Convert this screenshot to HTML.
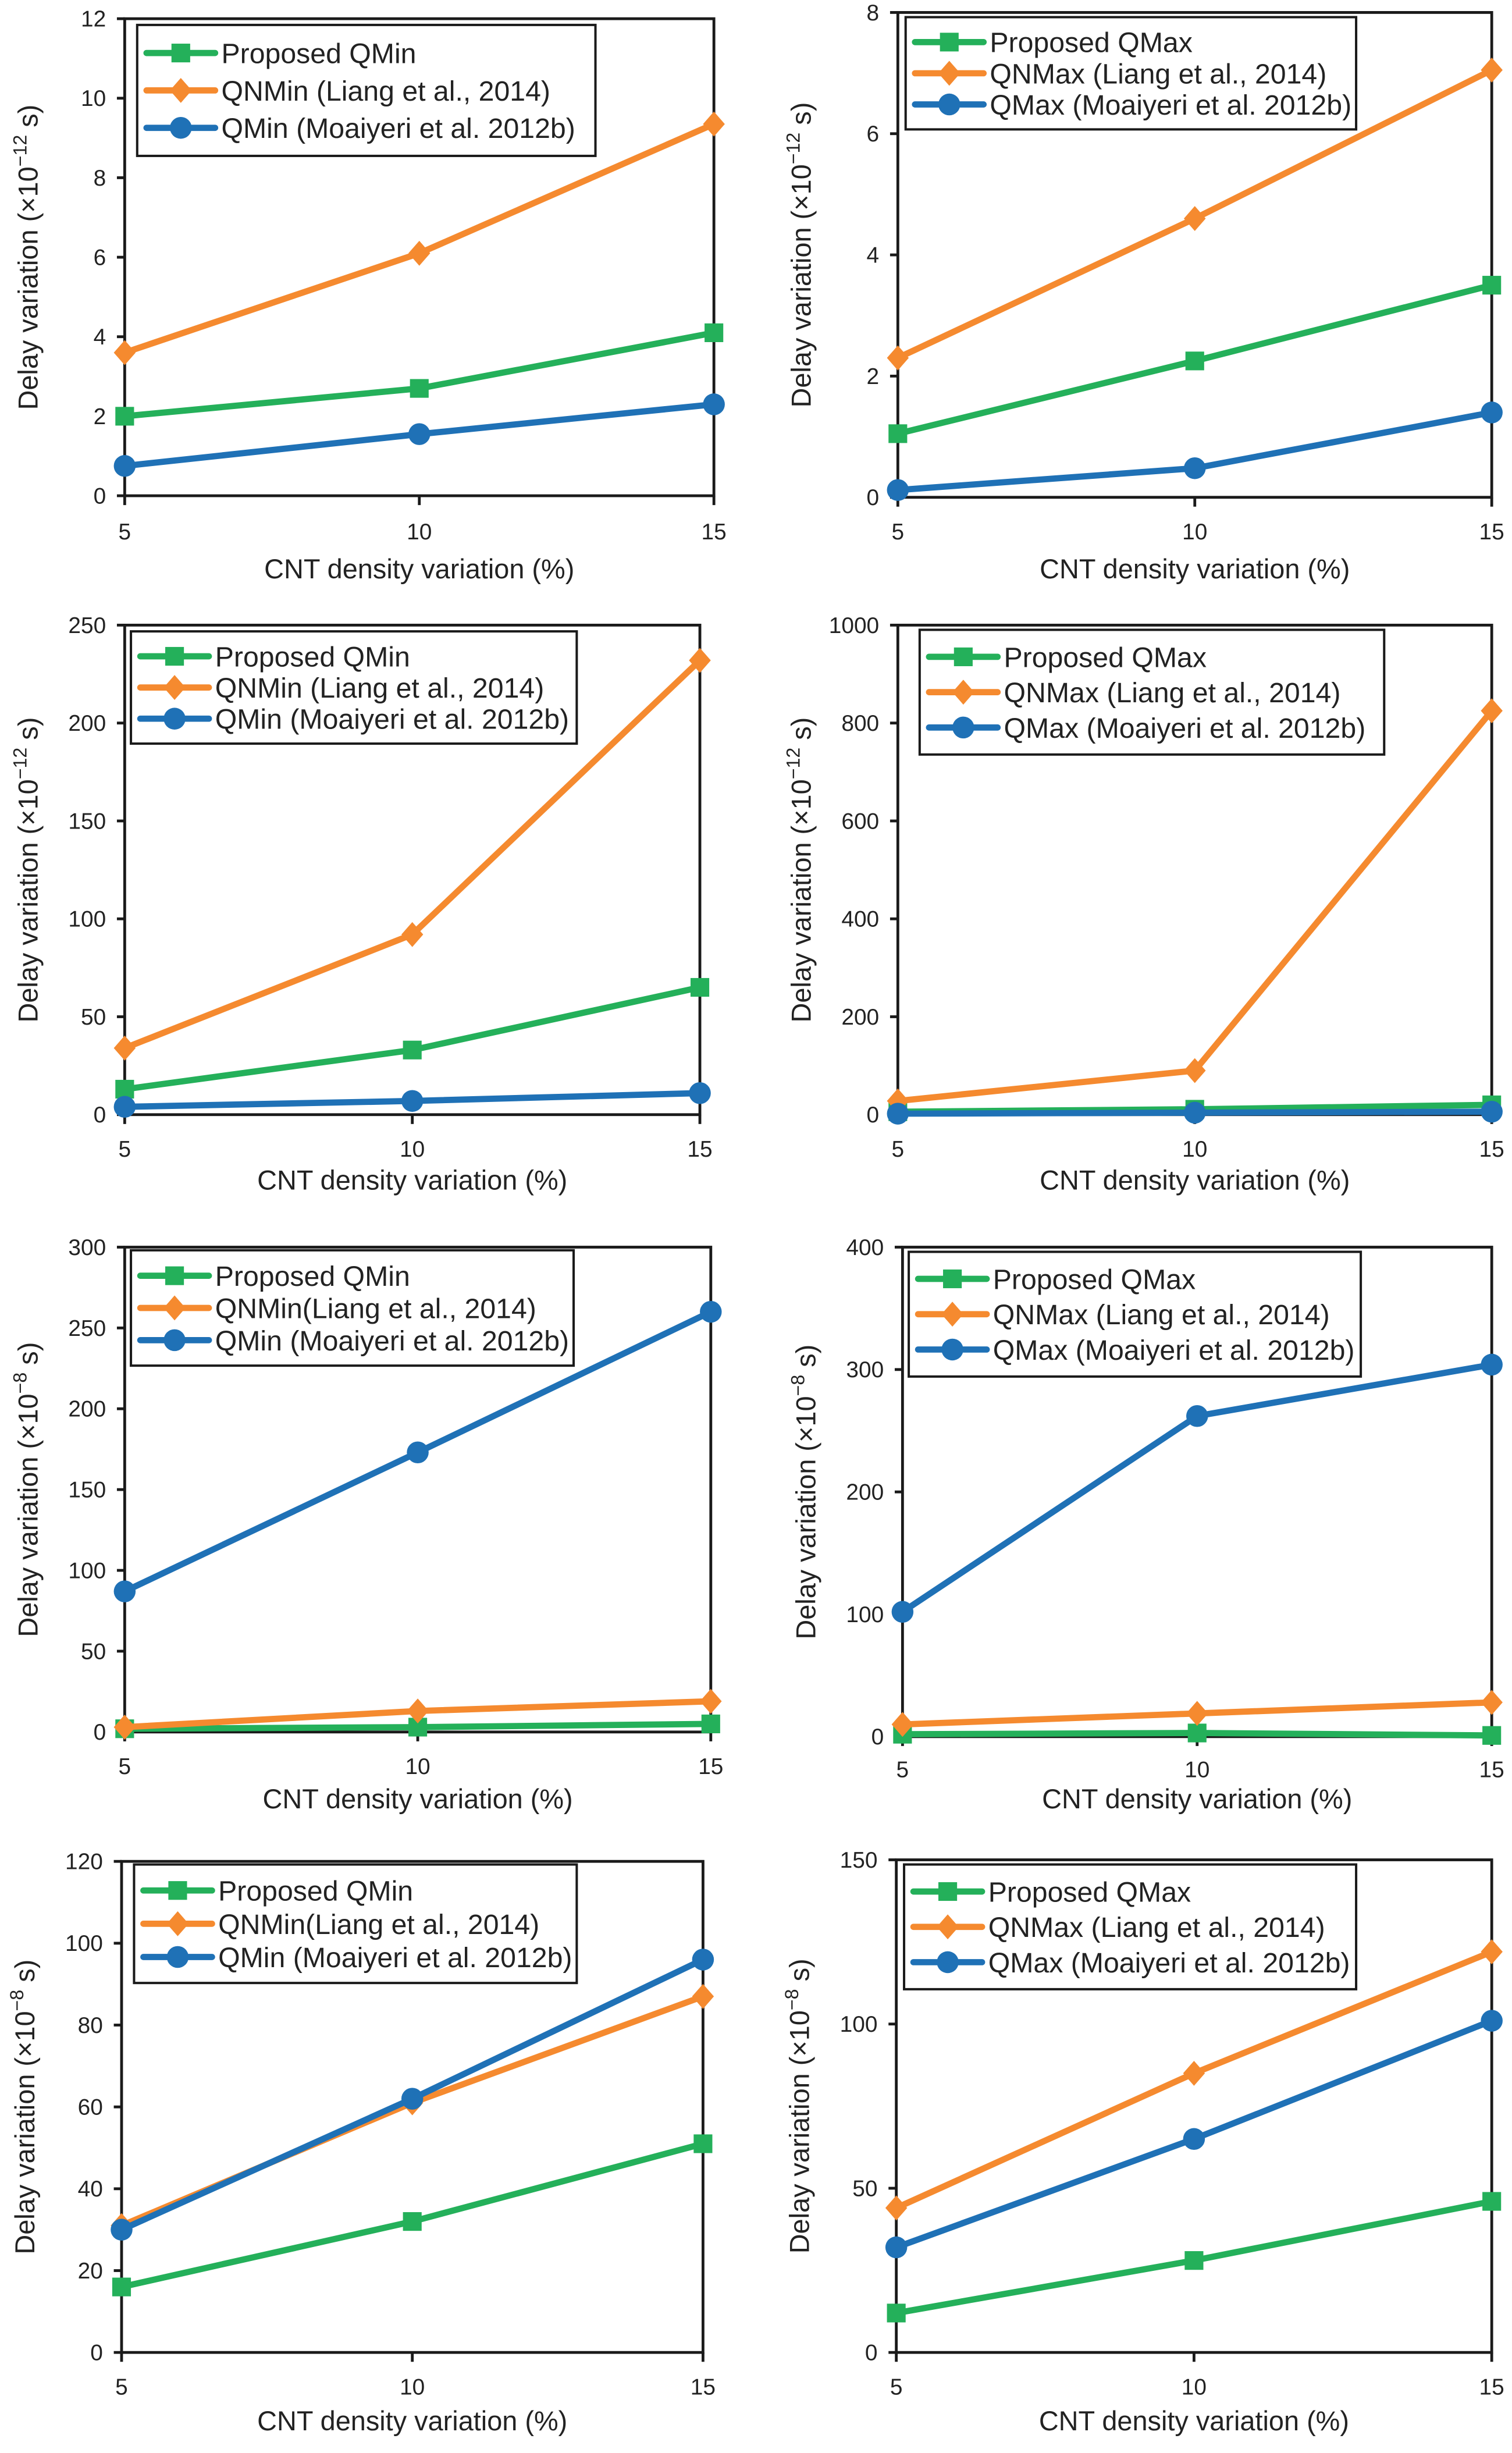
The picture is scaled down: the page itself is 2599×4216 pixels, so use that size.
<!DOCTYPE html>
<html><head><meta charset="utf-8">
<style>
html,body{margin:0;padding:0;background:#fff;}
svg{display:block;}
text{font-family:"Liberation Sans",Arial,sans-serif;fill:#222;}
</style></head>
<body>
<svg id="fig" width="2599" height="4216" viewBox="0 0 970 1573.5" preserveAspectRatio="none" xmlns="http://www.w3.org/2000/svg"></svg>
<script>
const categories = [5, 10, 15];
// Panel 1
const p1Green = [2.0, 2.7, 4.1];
const p1Orange = [3.6, 6.1, 9.35];
const p1Blue = [0.75, 1.55, 2.3];
const p1Ticks = [0, 2, 4, 6, 8, 10, 12];
// Panel 2
const p2Green = [1.05, 2.25, 3.5];
const p2Orange = [2.3, 4.6, 7.05];
const p2Blue = [0.12, 0.48, 1.4];
const p2Ticks = [0, 2, 4, 6, 8];
// Panel 3
const p3Green = [13, 33, 65];
const p3Orange = [34, 92, 232];
const p3Blue = [4, 7, 11];
const p3Ticks = [0, 50, 100, 150, 200, 250];
// Panel 4
const p4Green = [6, 11, 20];
const p4Orange = [28, 90, 825];
const p4Blue = [2, 4, 6];
const p4Ticks = [0, 200, 400, 600, 800, 1000];
// Panel 5
const p5Green = [2, 3, 5];
const p5Orange = [3, 13, 19];
const p5Blue = [87, 173, 260];
const p5Ticks = [0, 50, 100, 150, 200, 250, 300];
// Panel 6
const p6Green = [2, 3, 1];
const p6Orange = [10, 19, 28];
const p6Blue = [102, 262, 304];
const p6Ticks = [0, 100, 200, 300, 400];
// Panel 7
const p7Green = [16, 32, 51];
const p7Orange = [31, 61, 87];
const p7Blue = [30, 62, 96];
const p7Ticks = [0, 20, 40, 60, 80, 100, 120];
// Panel 8
const p8Green = [12, 28, 46];
const p8Orange = [44, 85, 122];
const p8Blue = [32, 65, 101];
const p8Ticks = [0, 50, 100, 150];

const NS = "http://www.w3.org/2000/svg";
const svg = document.getElementById('fig');
const GREEN = "#24b05a", ORANGE = "#f58a2f", BLUE = "#1f71b6";

function mk(tag, attrs, parent) {
  const e = document.createElementNS(NS, tag);
  for (const k in attrs) e.setAttribute(k, attrs[k]);
  (parent || svg).appendChild(e);
  return e;
}

function marker(g, kind, x, y, color) {
  let m;
  if (kind === 'sq') m = mk('rect', {x: x-6, y: y-6, width: 12, height: 12, fill: color}, g);
  else if (kind === 'di') m = mk('polygon', {points: `${x},${y-8} ${x+7},${y} ${x},${y+8} ${x-7},${y}`, fill: color}, g);
  else m = mk('circle', {cx: x, cy: y, r: 7, fill: color}, g);
  return m;
}

const panels = [
  {L:80,R:458,T:12,B:318, ticks:p1Ticks, g:p1Green,o:p1Orange,b:p1Blue, exp:"−12", leg:{x:88,y:16,w:294,h:84}, names:["Proposed QMin","QNMin (Liang et al., 2014)","QMin (Moaiyeri et al. 2012b)"], xl:340, xt:365},
  {L:576,R:957,T:8,B:319, ticks:p2Ticks, g:p2Green,o:p2Orange,b:p2Blue, exp:"−12", leg:{x:581,y:11,w:289,h:72}, names:["Proposed QMax","QNMax (Liang et al., 2014)","QMax (Moaiyeri et al. 2012b)"], xl:340, xt:365},
  {L:80,R:449,T:401,B:715, ticks:p3Ticks, g:p3Green,o:p3Orange,b:p3Blue, exp:"−12", leg:{x:84,y:405,w:286,h:72}, names:["Proposed QMin","QNMin (Liang et al., 2014)","QMin (Moaiyeri et al. 2012b)"], xl:736, xt:757},
  {L:576,R:957,T:401,B:715, ticks:p4Ticks, g:p4Green,o:p4Orange,b:p4Blue, exp:"−12", leg:{x:590,y:404,w:298,h:80}, names:["Proposed QMax","QNMax (Liang et al., 2014)","QMax (Moaiyeri et al. 2012b)"], xl:736, xt:757},
  {L:80,R:456,T:800,B:1111, ticks:p5Ticks, g:p5Green,o:p5Orange,b:p5Blue, exp:"−8", leg:{x:84,y:802,w:284,h:74}, names:["Proposed QMin","QNMin(Liang et al., 2014)","QMin (Moaiyeri et al. 2012b)"], xl:1132, xt:1154},
  {L:579,R:957,T:800,B:1114, ticks:p6Ticks, g:p6Green,o:p6Orange,b:p6Blue, exp:"−8", leg:{x:583,y:803,w:290,h:80}, names:["Proposed QMax","QNMax (Liang et al., 2014)","QMax (Moaiyeri et al. 2012b)"], xl:1134, xt:1154},
  {L:78,R:451,T:1194,B:1509, ticks:p7Ticks, g:p7Green,o:p7Orange,b:p7Blue, exp:"−8", leg:{x:86,y:1196,w:284,h:76}, names:["Proposed QMin","QNMin(Liang et al., 2014)","QMin (Moaiyeri et al. 2012b)"], xl:1530, xt:1553},
  {L:575,R:957,T:1193,B:1509, ticks:p8Ticks, g:p8Green,o:p8Orange,b:p8Blue, exp:"−8", leg:{x:580,y:1196,w:290,h:80}, names:["Proposed QMax","QNMax (Liang et al., 2014)","QMax (Moaiyeri et al. 2012b)"], xl:1530, xt:1553}
];

panels.forEach((p, pi) => {
  const g = mk('g', {});
  
  
  const ymax = p.ticks[p.ticks.length-1];
  const xs = v => p.L + (v - 5) / 10 * (p.R - p.L);
  const ys = v => p.B - v / ymax * (p.B - p.T);

  const fr = mk('rect', {x:p.L, y:p.T, width:p.R-p.L, height:p.B-p.T, fill:'none', stroke:'#1a1a1a', 'stroke-width':1.8}, g);
  
  

  p.ticks.forEach(t => {
    const y = ys(t);
    mk('line', {x1:p.L-5, x2:p.L, y1:y, y2:y, stroke:'#1a1a1a', 'stroke-width':1.8}, g);
    const tl = mk('text', {x:p.L-12, y:y+5, 'text-anchor':'end', 'font-size':14.5}, g);
    tl.textContent = t;
    
    
  });
  categories.forEach(c => {
    const x = xs(c);
    mk('line', {x1:x, x2:x, y1:p.B, y2:p.B+6, stroke:'#1a1a1a', 'stroke-width':1.8}, g);
    const tl = mk('text', {x:x, y:p.xl+6, 'text-anchor':'middle', 'font-size':14.5}, g);
    tl.textContent = c;
    
    
  });
  const xt = mk('text', {x:(p.L+p.R)/2, y:p.xt+6, 'text-anchor':'middle', 'font-size':17.5}, g);
  xt.textContent = "CNT density variation (%)";
  
  
  const cx = p.L - 56, cy = (p.T + p.B) / 2;
  const yt = mk('text', {x:cx, y:cy, 'text-anchor':'middle', 'font-size':17.5, transform:`rotate(-90 ${cx} ${cy})`}, g);
  
  
  const t1 = mk('tspan', {}, yt); t1.textContent = "Delay variation (×10";
  const t2 = mk('tspan', {dy:-7, 'font-size':12}, yt); t2.textContent = p.exp;
  const t3 = mk('tspan', {dy:7}, yt); t3.textContent = " s)";

  const series = [[p.g, GREEN, 'sq', 'green'], [p.o, ORANGE, 'di', 'orange'], [p.b, BLUE, 'ci', 'blue']];
  series.forEach(([vals, color, kind, nm]) => {
    const sg = mk('g', {}, g);
    
    
    const pts = vals.map((v, i) => xs(categories[i]) + ',' + ys(v)).join(' ');
    mk('polyline', {points:pts, fill:'none', stroke:color, 'stroke-width':4, 'stroke-linejoin':'round'}, sg);
    vals.forEach((v, i) => {
      const m = marker(sg, kind, xs(categories[i]), ys(v), color);
      
      
    });
  });

  const lg = mk('g', {}, g);
  
  
  mk('rect', {x:p.leg.x, y:p.leg.y, width:p.leg.w, height:p.leg.h, fill:'#fff', stroke:'#1a1a1a', 'stroke-width':1.5}, lg);
  const rowH = (p.leg.h - 12) / 3;
  series.forEach(([vals, color, kind, nm], i) => {
    const ey = p.leg.y + 6 + rowH * (i + 0.5);
    const eg = mk('g', {}, lg);
    
    
    mk('line', {x1:p.leg.x+6, x2:p.leg.x+50, y1:ey, y2:ey, stroke:color, 'stroke-width':4, 'stroke-linecap':'round'}, eg);
    marker(eg, kind, p.leg.x+28, ey, color);
    const tx = mk('text', {x:p.leg.x+54, y:ey+6.5, 'font-size':18}, eg);
    tx.textContent = p.names[i];
  });
});
</script>
</body></html>
